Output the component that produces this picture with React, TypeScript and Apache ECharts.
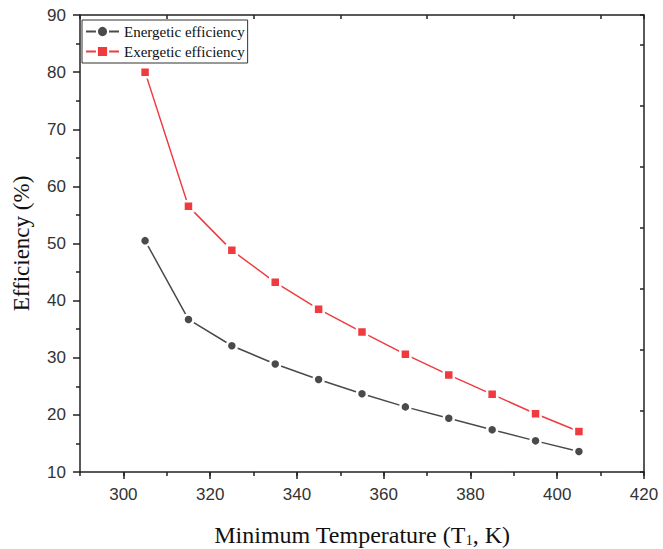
import React, { useEffect, useRef } from "react";
import * as echarts from "echarts";

const temperatures = [305, 315, 325, 335, 345, 355, 365, 375, 385, 395, 405];
const energetic = [50.5, 36.7, 32.1, 28.9, 26.2, 23.7, 21.4, 19.4, 17.4, 15.45, 13.6];
const exergetic = [80.0, 56.5, 48.8, 43.2, 38.5, 34.5, 30.6, 27.0, 23.6, 20.2, 17.1];
const seriesNames = ["Energetic efficiency", "Exergetic efficiency"];

const X_MIN = 290, X_MAX = 420;
const Y_MIN = 10, Y_MAX = 90, Y_INT = 10;

export default function App() {
  const ref = useRef<HTMLDivElement>(null);
  useEffect(() => {
    if (!ref.current) return;
    const chart = echarts.init(ref.current, null, { renderer: "svg" });
    const axisColor = "#222";
    const labelStyle = { fontFamily: "Liberation Sans, Arial, sans-serif", fontSize: 17, color: "#333" };
    const serif = "Liberation Serif, Times New Roman, serif";
    const toPairs = (ys: number[]) => temperatures.map((t, i) => [t, ys[i]]);
    const lineS = { color: axisColor, width: 1.5 };
    const pxPerUnit = (663 - 80 - 19) / (X_MAX - X_MIN);
    chart.setOption({
      animation: false,
      backgroundColor: "#fff",
      grid: [
        { left: 80, right: 19, top: 15, bottom: 77, containLabel: false, outerBoundsMode: "none" },
        // helper grid starting at 300 so the long major ticks land on multiples of 20
        { left: 80 + 10 * pxPerUnit, right: 19, top: 15, bottom: 77, containLabel: false, outerBoundsMode: "none" },
      ],
      legend: {
        left: 82,
        top: 20,
        orient: "vertical",
        data: seriesNames,
        borderColor: "#333",
        borderWidth: 1,
        padding: [4, 3, 4, 3],
        itemWidth: 33,
        itemHeight: 14,
        itemGap: 5,
        textStyle: { fontFamily: serif, fontSize: 15, color: "#111" },
      },
      xAxis: [
        {
          gridIndex: 0,
          type: "value",
          min: X_MIN,
          max: X_MAX,
          interval: 10,
          position: "bottom",
          name: "Minimum Temperature (T{sub|1}, K)",
          nameLocation: "middle",
          nameGap: 51,
          nameTextStyle: {
            fontFamily: serif,
            fontSize: 24,
            lineHeight: 24,
            color: "#111",
            rich: {
              sub: { fontFamily: serif, fontSize: 14, lineHeight: 10, verticalAlign: "bottom", color: "#111" },
            },
          },
          axisLine: { show: true, lineStyle: lineS },
          axisTick: { show: true, inside: false, length: 4, lineStyle: lineS },
          axisLabel: {
            ...labelStyle,
            margin: 14,
            formatter: (v: number) => (v % 20 === 0 ? String(v) : ""),
          },
          splitLine: { show: false },
        },
        {
          gridIndex: 0,
          type: "value",
          min: X_MIN,
          max: X_MAX,
          interval: 20,
          position: "top",
          axisLine: { show: true, lineStyle: lineS },
          axisTick: { show: true, inside: true, length: 4, lineStyle: lineS },
          axisLabel: { show: false },
          splitLine: { show: false },
        },
        {
          gridIndex: 1,
          type: "value",
          min: 300,
          max: X_MAX,
          interval: 20,
          position: "bottom",
          axisLine: { show: false },
          axisTick: { show: true, inside: false, length: 7, lineStyle: lineS },
          axisLabel: { show: false },
          splitLine: { show: false },
        },
      ],
      yAxis: [
        {
          gridIndex: 0,
          type: "value",
          min: Y_MIN,
          max: Y_MAX,
          interval: Y_INT,
          position: "left",
          name: "Efficiency (%)",
          nameLocation: "middle",
          nameGap: 47,
          nameTextStyle: { fontFamily: serif, fontSize: 23, color: "#111" },
          axisLine: { show: true, lineStyle: lineS },
          axisTick: { show: true, inside: false, length: 7, lineStyle: lineS },
          minorTick: { show: true, splitNumber: 2, length: 4, lineStyle: lineS },
          axisLabel: { ...labelStyle, margin: 14 },
          splitLine: { show: false },
        },
        {
          gridIndex: 0,
          type: "value",
          min: 0,
          max: 7.487,
          interval: 1,
          position: "right",
          axisLine: { show: true, lineStyle: lineS },
          axisTick: { show: true, inside: true, length: 4, lineStyle: lineS },
          axisLabel: { show: false },
          splitLine: { show: false },
        },
        {
          gridIndex: 1,
          type: "value",
          min: Y_MIN,
          max: Y_MAX,
          show: false,
        },
      ],
      series: [
        {
          name: seriesNames[0],
          type: "line",
          xAxisIndex: 0,
          yAxisIndex: 0,
          data: toPairs(energetic),
          symbol: "circle",
          symbolSize: 10,
          lineStyle: { color: "#4a4a4a", width: 1.5 },
          itemStyle: { color: "#4a4a4a", borderColor: "#fff", borderWidth: 2.5 },
        },
        {
          name: seriesNames[1],
          type: "line",
          xAxisIndex: 0,
          yAxisIndex: 0,
          data: toPairs(exergetic),
          symbol: "rect",
          symbolSize: 10,
          lineStyle: { color: "#ef3a3f", width: 1.5 },
          itemStyle: { color: "#ef3a3f", borderColor: "#fff", borderWidth: 2.5 },
        },
      ],
    });
    return () => chart.dispose();
  }, []);
  return (
    <div
      ref={ref}
      style={{ position: "fixed", left: 0, top: 0, width: 663, height: 549, background: "#fff" }}
    />
  );
}
